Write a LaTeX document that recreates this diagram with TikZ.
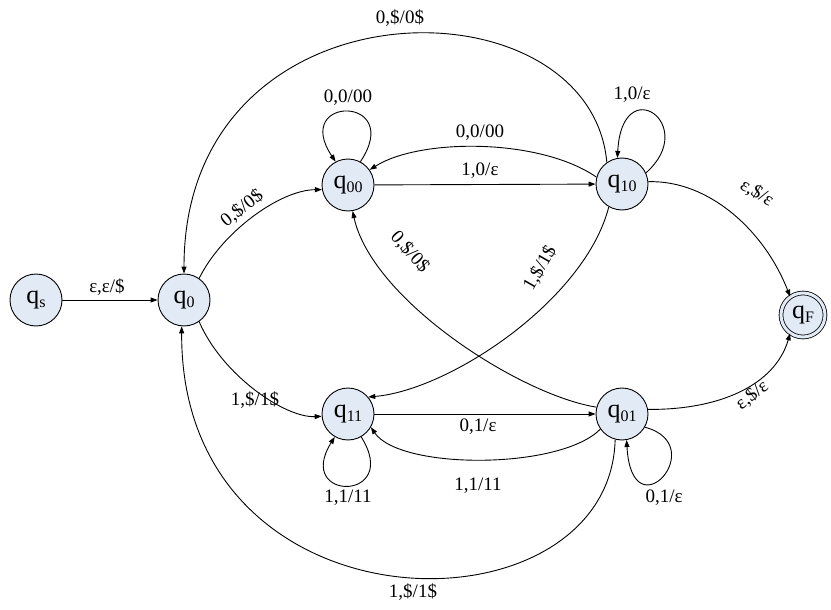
\documentclass[tikz,border=0pt]{standalone}
\usepackage{fontspec}
\setmainfont{Liberation Serif}
\usetikzlibrary{arrows.meta}
\definecolor{statefill}{RGB}{226,234,246}
\newcommand{\qsub}[1]{q\raisebox{-0.3ex}{\fontsize{16}{16}\selectfont #1}}
\begin{document}
\begin{tikzpicture}[x=1pt,y=-1pt,
  state/.style={circle,draw,line width=0.9pt,fill=statefill,minimum size=52pt,inner sep=0pt,font=\fontsize{26}{26}\selectfont},
  accept/.style={state,minimum size=44pt,double=statefill,double distance=3pt,line width=0.8pt},
  lbl/.style={font=\fontsize{19}{19}\selectfont,inner sep=1pt},
  edge/.style={draw,line width=0.9pt,-{Triangle[length=7pt,width=5pt]}}
]
\useasboundingbox (0,0) rectangle (831,610);

\node[state]  (qs)  at (36,300)  {\qsub{s}};
\node[state]  (q0)  at (184,300) {\qsub{0}};
\node[state]  (q00) at (348,185) {\qsub{00}};
\node[state]  (q10) at (622,184) {\qsub{10}};
\node[state]  (q11) at (348,414) {\qsub{11}};
\node[state]  (q01) at (622,414) {\qsub{01}};
\node[accept] (qF)  at (803,315) {\qsub{F}};

% qs -> q0
\draw[edge] (qs) -- (q0) node[lbl] at (107,287) {ε,ε/\$};
% q0 -> q00
\draw[edge] (q0.55) .. controls (222,232) and (280,190) .. (q00.190)
  node[lbl,rotate=38] at (242,208) {0,\$/0\$};
% q0 -> q11
\draw[edge] (q0.-55) .. controls (222,375) and (285,418) .. (q11.185)
  node[lbl] at (255,400) {1,\$/1\$};
% q10 -> q0 (top arc)
\draw[edge] (q10.125) .. controls (590,-25) and (184,-25) .. (q0.90)
  node[lbl] at (400,18) {0,\$/0\$};
% q01 -> q0 (bottom arc)
\draw[edge] (q01.-105) .. controls (610,640) and (180,640) .. (q0.-95)
  node[lbl] at (413,592) {1,\$/1\$};
% q00 self loop
\draw[edge] (q00.62) .. controls (405,95) and (291,95) .. (q00.118)
  node[lbl] at (348,98) {0,0/00};
% q00 -> q10
\draw[edge] (q00) -- (q10) node[lbl] at (480,171) {1,0/ε};
% q10 -> q00
\draw[edge] (q10.165) .. controls (540,138) and (420,138) .. (q00.35)
  node[lbl] at (480,133) {0,0/00};
% q10 self loop
\draw[edge] (q10.25) .. controls (700,125) and (622,70) .. (q10.100)
  node[lbl] at (632,95) {1,0/ε};
% q10 -> qF
\draw[edge] (q10.5) .. controls (710,180) and (765,232) .. (qF.125)
  node[lbl,rotate=-32] at (757,193) {ε,\$/ε};
% q01 -> qF
\draw[edge] (q01.10) .. controls (720,410) and (775,385) .. (qF.235)
  node[lbl,rotate=38] at (752,395) {ε,\$/ε};
% q10 -> q11
\draw[edge] (q10.240) .. controls (585,300) and (450,390) .. (q11.40)
  node[lbl,rotate=60] at (540,268) {1,\$/1\$};
% q01 -> q00
\draw[edge] (q01.165) .. controls (520,395) and (372,300) .. (q00.-80)
  node[lbl,rotate=-48] at (410,252) {0,\$/0\$};
% q11 -> q01
\draw[edge] (q11) -- (q01) node[lbl] at (478,427) {0,1/ε};
% q01 -> q11
\draw[edge] (q01.215) .. controls (560,470) and (400,470) .. (q11.-30)
  node[lbl] at (478,486) {1,1/11};
% q11 self loop
\draw[edge] (q11.-60) .. controls (402,502) and (294,502) .. (q11.-120)
  node[lbl] at (348,498) {1,1/11};
% q01 self loop
\draw[edge] (q01.-30) .. controls (712,445) and (632,535) .. (q01.-80)
  node[lbl] at (664,498) {0,1/ε};
\end{tikzpicture}
\end{document}
